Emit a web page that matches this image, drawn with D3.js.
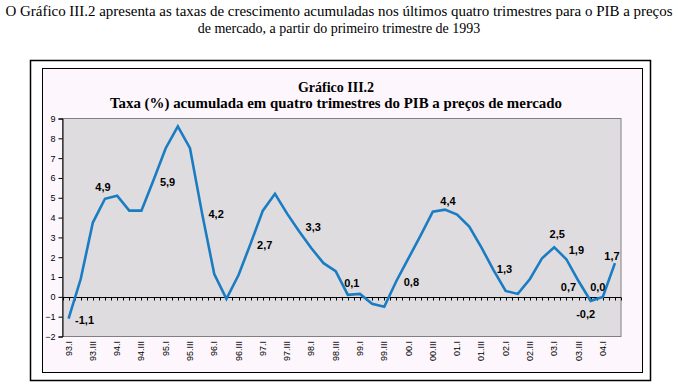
<!DOCTYPE html>
<html><head><meta charset="utf-8">
<script src="https://cdn.jsdelivr.net/npm/d3@7"></script>
<style>body{margin:0;background:#fff}svg{display:block}
.serif{font-family:"Liberation Serif","DejaVu Serif","Times New Roman",serif}
.sans{font-family:"Liberation Sans",Arial,sans-serif}</style>
</head><body>
<svg id="c" width="678" height="389"></svg>
<script>
const categories = ["93.I","93.II","93.III","93.IV","94.I","94.II","94.III","94.IV","95.I","95.II","95.III","95.IV",
"96.I","96.II","96.III","96.IV","97.I","97.II","97.III","97.IV","98.I","98.II","98.III","98.IV",
"99.I","99.II","99.III","99.IV","00.I","00.II","00.III","00.IV","01.I","01.II","01.III","01.IV",
"02.I","02.II","02.III","02.IV","03.I","03.II","03.III","03.IV","04.I","04.II"];
const values = [-1.1,0.9,3.75,4.95,5.1,4.35,4.35,5.9,7.5,8.6,7.5,4.2,
1.15,-0.1,1.1,2.7,4.35,5.2,4.2,3.3,2.45,1.7,1.3,0.1,
0.15,-0.35,-0.5,0.8,1.95,3.1,4.3,4.4,4.15,3.55,2.5,1.35,
0.3,0.15,0.9,1.95,2.5,1.9,0.8,-0.2,0.0,1.7];
const yTicks = [-2,-1,0,1,2,3,4,5,6,7,8,9];
const labelIndex = [0,3,7,11,15,19,23,27,31,35,40,41,42,43,44,45];
const labelText = ["-1,1","4,9","5,9","4,2","2,7","3,3","0,1","0,8","4,4","1,3","2,5","1,9","0,7","-0,2","0,0","1,7"];
const introLines = ["O Gráfico III.2 apresenta as taxas de crescimento acumuladas nos últimos quatro trimestres para o PIB a preços",
"de mercado, a partir do primeiro trimestre de 1993"];
const titleLines = ["Gráfico III.2","Taxa (%) acumulada em quatro trimestres do PIB a preços de mercado"];

// label placement offsets (dx, dy) relative to the point
const labelOffsets = [[16,5],[-2,-8],[14,6],[14,4],[14,6],[14,0],[4,-8],[15,5],[3,-5],[11,3],[3,-9],[10,-5],[-10,10],[-5,17],[-5,-6],[-3,-3]];

const svg = d3.select("#c");
// intro text
svg.selectAll("text.intro").data(introLines).join("text").attr("class","serif")
  .attr("x",339).attr("y",(d,i)=>16+i*17).attr("text-anchor","middle")
  .attr("font-size",14).attr("fill","#000").text(d=>d)
  .each(function(d,i){ if(i===0) d3.select(this).attr("textLength",667).attr("lengthAdjust","spacingAndGlyphs"); });

// outer box
svg.append("rect").attr("x",30.5).attr("y",60.5).attr("width",620).attr("height",320)
  .attr("fill","#fff").attr("stroke","#000").attr("stroke-width",1.5);
// chart area
svg.append("rect").attr("x",42.5).attr("y",68.5).attr("width",600).attr("height",304)
  .attr("fill","#fdf7fd").attr("stroke","#000").attr("stroke-width",1);

svg.selectAll("text.title").data(titleLines).join("text").attr("class","serif")
  .attr("x",336).attr("y",(d,i)=>92+i*16).attr("text-anchor","middle")
  .attr("font-size",14).attr("font-weight","bold")
  .attr("fill","#000").text(d=>d)
  .each(function(d,i){ if(i===1) d3.select(this).attr("textLength",452).attr("lengthAdjust","spacingAndGlyphs"); });

const L=62.5, R=621, T=118.5, B=336.5;
const x = d3.scaleBand().domain(categories).range([L,R]).padding(0);
const y = d3.scaleLinear().domain([-2,9]).range([B,T]);
const cx = c => x(c)+x.bandwidth()/2;

svg.append("rect").attr("x",L).attr("y",T).attr("width",R-L).attr("height",B-T)
  .attr("fill","#dfdcdf").attr("stroke","#808080").attr("stroke-width",1);

// y axis
const ya = svg.append("g").attr("transform",`translate(${L},0)`)
  .call(d3.axisLeft(y).tickValues(yTicks).tickSize(4).tickPadding(3).tickFormat(d3.format("d")));
ya.select(".domain").attr("stroke","#000");
ya.selectAll("line").attr("stroke","#000");
ya.selectAll("text").attr("class","sans").attr("font-family",null).attr("font-size",9).attr("fill","#000");

// zero axis with ticks every half category
const y0 = Math.round(y(0))+0.5;
svg.append("line").attr("x1",L).attr("x2",R).attr("y1",y0).attr("y2",y0).attr("stroke","#000");
const tickXs = [];
categories.forEach(c=>{tickXs.push(x(c)); tickXs.push(cx(c));});
tickXs.push(R);
svg.selectAll("line.zt").data(tickXs).join("line")
  .attr("x1",d=>Math.round(d)+0.5).attr("x2",d=>Math.round(d)+0.5).attr("y1",y0).attr("y2",y0+3).attr("stroke","#000");

// x labels
svg.selectAll("text.xl").data(categories.filter((c,i)=>i%2===0)).join("text").attr("class","sans")
  .attr("transform",d=>`translate(${cx(d)+3},341) rotate(-90)`).attr("text-anchor","end")
  .attr("font-size",9).attr("fill","#000").text(d=>d);

// line
const line = d3.line().x((d,i)=>cx(categories[i])).y(d=>y(d));
svg.append("path").datum(values).attr("d",line).attr("fill","none")
  .attr("stroke","#1a7cc2").attr("stroke-width",2.6).attr("stroke-linejoin","miter");

// data labels
svg.selectAll("text.dl").data(labelIndex).join("text").attr("class","sans")
  .attr("x",(d,i)=>cx(categories[d])+labelOffsets[i][0])
  .attr("y",(d,i)=>y(values[d])+labelOffsets[i][1])
  .attr("text-anchor","middle")
  .attr("font-size",11).attr("font-weight","bold").attr("fill","#000")
  .text((d,i)=>labelText[i]);
</script>
</body></html>
